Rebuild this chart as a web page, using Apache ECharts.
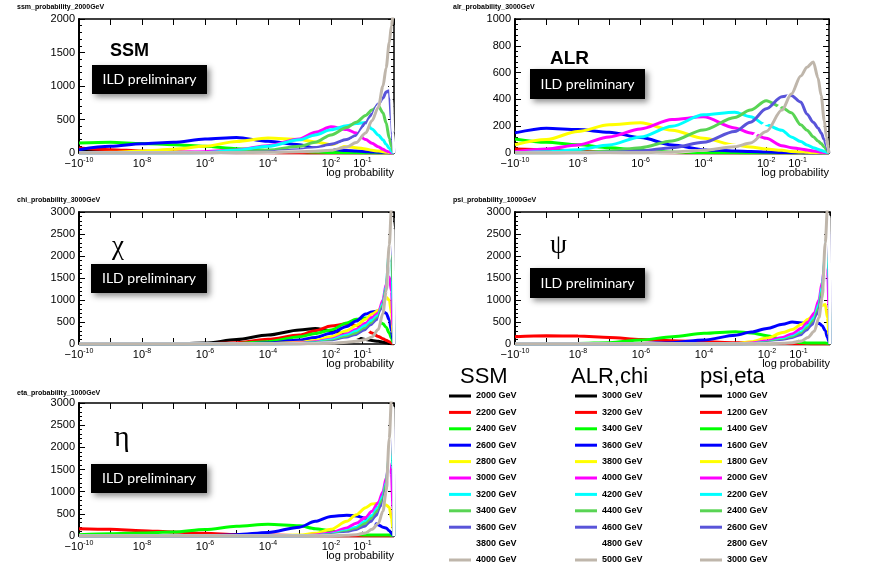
<!DOCTYPE html>
<html>
<head>
<meta charset="utf-8">
<title>log probability</title>
<script src="https://cdn.jsdelivr.net/npm/echarts/dist/echarts.min.js"></script>
<style>
  html, body { margin: 0; padding: 0; background: #fff; }
  #root { width: 872px; height: 574px; }
</style>
</head>
<body>
<div id="root"></div>
<script>
// x sampling points, log10(probability)
const logP = [-10, -9, -8, -7, -6, -5, -4, -3, -2.5, -2, -1.5, -1.2, -0.9, -0.7, -0.5, -0.35, -0.25, -0.15, -0.08, -0.03, 0];
const tickExps = [-10, -8, -6, -4, -2, -1];

const ssmMasses = ['2000 GeV', '2200 GeV', '2400 GeV', '2600 GeV', '2800 GeV', '3000 GeV', '3200 GeV', '3400 GeV', '3600 GeV', '3800 GeV', '4000 GeV'];
const alrMasses = ['3000 GeV', '3200 GeV', '3400 GeV', '3600 GeV', '3800 GeV', '4000 GeV', '4200 GeV', '4400 GeV', '4600 GeV', '4800 GeV', '5000 GeV'];
const psiMasses = ['1000 GeV', '1200 GeV', '1400 GeV', '1600 GeV', '1800 GeV', '2000 GeV', '2200 GeV', '2400 GeV', '2600 GeV', '2800 GeV', '3000 GeV'];

// ROOT palette 1..11
const colors = ['#000000', '#ff0000', '#00ff00', '#0000ff', '#ffff00', '#ff00ff', '#00ffff', '#59d454', '#5954d9', '#ffffff', '#bfb6ab'];

const ssmCounts = [
  [25, 20, 15, 10, 8, 5, 3, 2, 1, 1, 0, 0, 0, 0, 0, 0, 0, 0, 0, 0, 0],
  [75, 50, 30, 15, 8, 4, 2, 1, 0, 0, 0, 0, 0, 0, 0, 0, 0, 0, 0, 0, 0],
  [150, 160, 140, 125, 100, 65, 40, 25, 15, 8, 4, 2, 1, 0, 0, 0, 0, 0, 0, 0, 0],
  [50, 99, 139, 160, 208, 233, 174, 124, 74, 55, 38, 30, 20, 15, 12, 10, 8, 5, 3, 1, 0],
  [0, 10, 30, 55, 99, 173, 225, 200, 165, 124, 95, 80, 60, 40, 30, 20, 12, 6, 2, 0, 0],
  [0, 0, 2, 8, 20, 45, 110, 210, 310, 390, 350, 300, 200, 145, 95, 55, 30, 15, 5, 1, 0],
  [0, 0, 0, 2, 8, 40, 99, 198, 270, 347, 407, 440, 456, 360, 270, 198, 130, 70, 30, 8, 0],
  [0, 0, 0, 0, 2, 10, 40, 100, 160, 270, 380, 460, 560, 640, 700, 600, 450, 220, 100, 30, 0],
  [0, 0, 0, 0, 0, 5, 15, 50, 83, 130, 200, 260, 450, 580, 730, 820, 910, 930, 500, 150, 0],
  [0, 0, 0, 0, 0, 0, 5, 30, 50, 80, 150, 220, 380, 520, 700, 1000, 1200, 1250, 800, 300, 0],
  [0, 0, 0, 0, 0, 5, 10, 20, 25, 40, 90, 155, 300, 480, 680, 1000, 1270, 1650, 1900, 2050, 2100]
];

const alrCounts = [
  [10, 8, 5, 3, 2, 1, 0, 0, 0, 0, 0, 0, 0, 0, 0, 0, 0, 0, 0, 0, 0],
  [30, 25, 15, 8, 4, 2, 1, 0, 0, 0, 0, 0, 0, 0, 0, 0, 0, 0, 0, 0, 0],
  [105, 80, 62, 40, 20, 8, 3, 1, 0, 0, 0, 0, 0, 0, 0, 0, 0, 0, 0, 0, 0],
  [150, 185, 175, 155, 115, 60, 25, 15, 12, 8, 4, 2, 1, 0, 0, 0, 0, 0, 0, 0, 0],
  [62, 100, 161, 211, 225, 170, 110, 60, 45, 30, 20, 12, 8, 5, 3, 2, 1, 0, 0, 0, 0],
  [10, 30, 60, 120, 180, 250, 270, 187, 150, 110, 55, 40, 30, 22, 15, 10, 6, 3, 1, 0, 0],
  [0, 10, 25, 60, 120, 200, 285, 305, 270, 210, 170, 120, 85, 60, 40, 28, 20, 12, 6, 2, 0],
  [0, 0, 5, 15, 40, 90, 172, 265, 320, 390, 340, 300, 210, 170, 122, 90, 70, 45, 25, 10, 0],
  [0, 0, 0, 5, 15, 40, 80, 160, 230, 330, 420, 430, 380, 290, 230, 187, 150, 100, 55, 20, 0],
  [0, 0, 0, 0, 0, 5, 20, 60, 110, 220, 360, 450, 540, 550, 500, 400, 320, 200, 100, 40, 0],
  [0, 0, 0, 0, 2, 8, 20, 47, 75, 160, 320, 440, 575, 640, 680, 560, 430, 240, 120, 45, 0]
];

const chiCounts = [
  [0, 0, 0, 3, 20, 100, 204, 318, 355, 300, 220, 150, 100, 80, 60, 40, 30, 15, 8, 3, 0],
  [0, 0, 0, 0, 5, 30, 106, 204, 300, 408, 460, 420, 330, 250, 170, 120, 85, 50, 25, 8, 0],
  [0, 0, 0, 0, 2, 10, 53, 166, 240, 318, 480, 560, 590, 570, 520, 460, 380, 250, 130, 40, 0],
  [0, 0, 0, 0, 0, 5, 20, 90, 150, 242, 400, 520, 680, 730, 750, 740, 700, 550, 300, 100, 0],
  [0, 0, 0, 0, 0, 0, 5, 40, 80, 166, 300, 420, 560, 680, 760, 900, 1060, 1000, 700, 250, 0],
  [0, 0, 0, 0, 0, 0, 2, 20, 50, 110, 230, 330, 470, 600, 700, 1000, 1350, 1520, 1200, 400, 0],
  [0, 0, 0, 0, 0, 0, 0, 12, 35, 90, 200, 290, 420, 540, 650, 920, 1300, 2100, 2300, 1000, 0],
  [0, 0, 0, 0, 0, 0, 0, 8, 25, 65, 160, 240, 360, 480, 600, 870, 1250, 2000, 2200, 1400, 0],
  [0, 0, 0, 0, 0, 0, 0, 5, 15, 45, 120, 190, 310, 430, 560, 820, 1200, 1950, 2600, 2000, 0],
  [0, 0, 0, 0, 0, 0, 0, 3, 10, 30, 90, 150, 260, 380, 500, 760, 1150, 1900, 2800, 2600, 0],
  [0, 0, 0, 0, 0, 0, 0, 2, 5, 15, 40, 60, 100, 160, 330, 700, 1200, 2250, 3100, 3300, 3300]
];

const psiCounts = [
  [5, 4, 3, 2, 1, 0, 0, 0, 0, 0, 0, 0, 0, 0, 0, 0, 0, 0, 0, 0, 0],
  [165, 185, 180, 150, 105, 75, 50, 30, 25, 20, 12, 8, 5, 3, 2, 1, 0, 0, 0, 0, 0],
  [0, 5, 12, 30, 90, 166, 242, 280, 250, 190, 100, 60, 35, 25, 22, 20, 20, 20, 15, 10, 0],
  [0, 0, 0, 2, 10, 30, 90, 200, 270, 355, 450, 500, 480, 470, 460, 470, 420, 300, 150, 50, 0],
  [0, 0, 0, 0, 0, 0, 2, 10, 50, 136, 260, 330, 450, 560, 660, 800, 880, 900, 600, 200, 0],
  [0, 0, 0, 0, 0, 0, 0, 5, 20, 70, 150, 230, 360, 500, 700, 1000, 1400, 1900, 1800, 800, 0],
  [0, 0, 0, 0, 0, 0, 0, 3, 10, 40, 100, 170, 280, 420, 600, 900, 1300, 2000, 2700, 1500, 0],
  [0, 0, 0, 0, 0, 0, 0, 2, 6, 30, 80, 140, 240, 370, 540, 820, 1200, 1900, 2600, 2000, 0],
  [0, 0, 0, 0, 0, 0, 0, 1, 4, 20, 60, 110, 200, 320, 480, 740, 1100, 1800, 2800, 2500, 0],
  [0, 0, 0, 0, 0, 0, 0, 0, 2, 12, 40, 80, 150, 260, 400, 650, 1000, 1700, 2900, 2900, 0],
  [0, 0, 0, 0, 0, 0, 0, 0, 1, 5, 15, 30, 70, 150, 290, 600, 1050, 2300, 3100, 3300, 3300]
];

const etaCounts = [
  [5, 4, 3, 2, 1, 0, 0, 0, 0, 0, 0, 0, 0, 0, 0, 0, 0, 0, 0, 0, 0],
  [165, 150, 120, 90, 60, 35, 20, 10, 5, 3, 1, 0, 0, 0, 0, 0, 0, 0, 0, 0, 0],
  [30, 50, 70, 90, 145, 218, 265, 230, 165, 115, 60, 35, 25, 20, 20, 20, 20, 20, 15, 10, 0],
  [0, 0, 0, 0, 5, 30, 80, 200, 330, 440, 470, 450, 400, 330, 250, 200, 180, 120, 60, 20, 0],
  [0, 0, 0, 0, 0, 0, 3, 20, 60, 150, 330, 480, 640, 720, 740, 720, 700, 650, 400, 150, 0],
  [0, 0, 0, 0, 0, 0, 0, 5, 20, 70, 180, 290, 420, 560, 750, 1000, 1300, 1630, 1400, 600, 0],
  [0, 0, 0, 0, 0, 0, 0, 3, 10, 40, 120, 200, 330, 460, 650, 900, 1200, 1800, 2400, 1500, 0],
  [0, 0, 0, 0, 0, 0, 0, 2, 7, 30, 90, 160, 280, 400, 580, 830, 1150, 1750, 2500, 2000, 0],
  [0, 0, 0, 0, 0, 0, 0, 1, 4, 20, 65, 120, 220, 340, 500, 740, 1050, 1700, 2700, 2400, 0],
  [0, 0, 0, 0, 0, 0, 0, 0, 2, 12, 40, 80, 160, 270, 420, 650, 980, 1650, 2900, 2900, 0],
  [0, 0, 0, 0, 0, 0, 0, 0, 1, 5, 15, 30, 70, 150, 280, 560, 1000, 2200, 3100, 3300, 3300]
];

const FONT = 'Liberation Sans';
const SERIF = 'Liberation Serif';

// layout of the five pads
const panels = [
  { name: 'ssm_probability_2000GeV', tag: 'SSM', group: 'SSM', counts: ssmCounts, masses: ssmMasses, yMax: 2000, yStep: 500,
    grid: [79, 19, 315, 134], titleXY: [17, 4], tagXY: [110, 42], tagFont: { fontSize: 18, fontWeight: 'bold', fontFamily: FONT }, box: [92, 65, 115, 29] },
  { name: 'alr_probability_3000GeV', tag: 'ALR', group: 'ALR,chi', counts: alrCounts, masses: alrMasses, yMax: 1000, yStep: 200,
    grid: [515, 19, 314, 134], titleXY: [453, 4], tagXY: [550, 49], tagFont: { fontSize: 19, fontWeight: 'bold', fontFamily: FONT }, box: [530, 69, 115, 30] },
  { name: 'chi_probability_3000GeV', tag: '\u03c7', group: 'ALR,chi', counts: chiCounts, masses: alrMasses, yMax: 3000, yStep: 500,
    grid: [79, 212, 315, 132], titleXY: [17, 197], tagXY: [112, 233], tagFont: { fontSize: 27, fontWeight: 'normal', fontFamily: SERIF }, box: [91, 264, 116, 29] },
  { name: 'psi_probability_1000GeV', tag: '\u03c8', group: 'psi,eta', counts: psiCounts, masses: psiMasses, yMax: 3000, yStep: 500,
    grid: [515, 212, 315, 132], titleXY: [453, 197], tagXY: [550, 232], tagFont: { fontSize: 27, fontWeight: 'normal', fontFamily: SERIF }, box: [530, 268, 115, 30] },
  { name: 'eta_probability_1000GeV', tag: '\u03b7', group: 'psi,eta', counts: etaCounts, masses: psiMasses, yMax: 3000, yStep: 500,
    grid: [79, 403, 315, 133], titleXY: [17, 390], tagXY: [114, 423], tagFont: { fontSize: 30, fontWeight: 'normal', fontFamily: SERIF }, box: [91, 464, 116, 29] }
];

const legendCols = [
  { group: 'SSM', masses: ssmMasses, left: 449, head: 'SSM', headX: 460 },
  { group: 'ALR,chi', masses: alrMasses, left: 575, head: 'ALR,chi', headX: 571 },
  { group: 'psi,eta', masses: psiMasses, left: 700, head: 'psi,eta', headX: 700 }
];

const chart = echarts.init(document.getElementById('root'));

const grids = [], xAxes = [], yAxes = [], series = [], titles = [], graphics = [];

const xLabel = function (v) {
  if (tickExps.indexOf(v) < 0) return '';
  if (v === -10) return '{b|\u221210}{s|-10}';
  return '{b|10}{s|' + v + '}';
};

panels.forEach(function (p, i) {
  const g = p.grid;
  grids.push({ left: g[0], top: g[1], width: g[2], height: g[3], show: false });

  const tick = { show: true, inside: true, length: 6, lineStyle: { color: '#000', width: 1 } };
  xAxes.push({
    gridIndex: i, type: 'value', min: -10, max: 0, interval: 1, position: 'bottom',
    axisLine: { show: true, onZero: false, lineStyle: { color: '#000', width: 1.5 } },
    axisTick: tick, splitLine: { show: false },
    axisLabel: {
      margin: 4, color: '#000', formatter: xLabel,
      rich: {
        b: { fontSize: 11, fontFamily: FONT, color: '#000', lineHeight: 14 },
        s: { fontSize: 7, fontFamily: FONT, color: '#000', lineHeight: 8, verticalAlign: 'top' }
      }
    }
  });
  xAxes.push({
    gridIndex: i, type: 'value', min: -10, max: 0, interval: 1, position: 'top',
    axisLine: { show: true, onZero: false, lineStyle: { color: '#000', width: 1.5 } },
    axisTick: tick, axisLabel: { show: false }, splitLine: { show: false }
  });
  yAxes.push({
    gridIndex: i, type: 'value', min: 0, max: p.yMax, interval: p.yStep, position: 'left',
    axisLine: { show: true, onZero: false, lineStyle: { color: '#000', width: 2 } },
    axisTick: tick,
    minorTick: { show: true, splitNumber: 5, length: 3, lineStyle: { color: '#000' } },
    axisLabel: { margin: 4, color: '#000', fontSize: 11, fontFamily: FONT,
      formatter: function (v) { return String(v); } },
    splitLine: { show: false }
  });
  yAxes.push({
    gridIndex: i, type: 'value', min: 0, max: p.yMax, interval: p.yStep, position: 'right',
    axisLine: { show: true, onZero: false, lineStyle: { color: '#000', width: 1.5 } },
    axisTick: tick,
    minorTick: { show: true, splitNumber: 5, length: 3, lineStyle: { color: '#000' } },
    axisLabel: { show: false }, splitLine: { show: false }
  });

  p.counts.forEach(function (row, k) {
    series.push({
      type: 'line',
      name: p.group + '|' + p.masses[k],
      xAxisIndex: 2 * i, yAxisIndex: 2 * i,
      data: logP.map(function (x, j) { return [x, row[j]]; }),
      symbol: 'none', smooth: 0.3, smoothMonotone: 'x', clip: true,
      lineStyle: { width: 3, color: colors[k] },
      itemStyle: { color: colors[k] },
      emphasis: { disabled: true }
    });
  });

  // pad name, model tag, axis title
  titles.push({ text: p.name, left: p.titleXY[0], top: p.titleXY[1], padding: 0,
    textStyle: { fontSize: 7, fontWeight: 'bold', fontFamily: FONT, color: '#000' } });
  titles.push({ text: p.tag, left: p.tagXY[0], top: p.tagXY[1], padding: 0,
    textStyle: Object.assign({ color: '#000' }, p.tagFont) });
  titles.push({ text: 'log probability', right: 872 - (g[0] + g[2]), top: g[1] + g[3] + 14, padding: 0,
    textStyle: { fontSize: 11, fontWeight: 'normal', fontFamily: FONT, color: '#000' } });

  const b = p.box;
  graphics.push({
    type: 'rect', z: 100, shape: { x: b[0], y: b[1], width: b[2], height: b[3] },
    style: { fill: '#000', shadowBlur: 6, shadowOffsetX: 3, shadowOffsetY: 3, shadowColor: 'rgba(0,0,0,0.45)' }
  });
  graphics.push({
    type: 'text', z: 101, x: b[0] + b[2] / 2, y: b[1] + b[3] / 2,
    style: { text: 'ILD preliminary', fill: '#fff', fontSize: 14, fontFamily: 'Lato', align: 'center', verticalAlign: 'middle' }
  });
});

const legends = legendCols.map(function (c) {
  titles.push({ text: c.head, left: c.headX, top: 366, padding: 0,
    textStyle: { fontSize: 22, fontWeight: 'normal', fontFamily: FONT, color: '#000' } });
  return {
    orient: 'vertical', left: c.left, top: 390, padding: 0,
    icon: 'rect', itemWidth: 22, itemHeight: 3, itemGap: 4.4,
    selectedMode: false,
    data: c.masses.map(function (m) { return c.group + '|' + m; }),
    formatter: function (n) { return n.split('|')[1]; },
    textStyle: { fontSize: 9, fontWeight: 'bold', fontFamily: FONT, color: '#000', lineHeight: 12 }
  };
});

chart.setOption({
  backgroundColor: '#fff',
  animation: false,
  title: titles,
  grid: grids,
  xAxis: xAxes,
  yAxis: yAxes,
  legend: legends,
  series: series,
  graphic: graphics
});
</script>
</body>
</html>
